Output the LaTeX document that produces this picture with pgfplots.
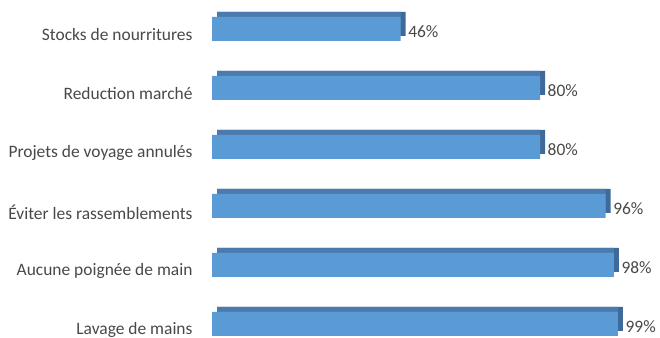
\documentclass[border=0pt]{standalone}
\usepackage{pgfplots}
\pgfplotsset{compat=1.18}
\usepackage{pgfplotstable}
\usepackage{fontspec}
\setmainfont{Carlito}
\definecolor{front}{HTML}{5B9BD5}
\definecolor{topf}{HTML}{4B7BAE}
\definecolor{side}{HTML}{3D6A98}
\definecolor{txt}{HTML}{484848}
\pgfplotstableread{
y v
0 99
1 98
2 96
3 80
4 80
5 46
}\data
\begin{document}
\begin{tikzpicture}
\useasboundingbox (0,0) rectangle (660bp,338bp);
\begin{axis}[
  at={(212bp,-15.5bp)}, anchor=south west,
  x=4.1bp, y=59bp,
  xmin=0, xmax=110, ymin=-0.5, ymax=5.5,
  axis line style={draw=none},
  xtick=\empty,
  ytick={0,1,2,3,4,5},
  yticklabels={Lavage de mains, Aucune poignée de main, Éviter les rassemblements, Projets de voyage annulés, Reduction marché, Stocks de nourritures},
  major tick length=0pt,
  /pgf/number format/assume math mode=true,
  yticklabel style={font=\fontsize{17.5}{20}\selectfont, text=txt, anchor=east, xshift=-16bp, yshift=-6bp},
  clip=false,
]
\addplot[xbar, bar width=24bp, fill=side, draw=none, xshift=5bp, yshift=5bp] table[x=v, y=y] {\data};
\addplot[xbar, bar width=24bp, fill=topf, draw=none, xshift=5bp, yshift=5bp] table[x expr=\thisrow{v}-1.22, y=y] {\data};
\addplot[xbar, bar width=24bp, fill=front, draw=none,
  nodes near coords={\pgfmathprintnumber[assume math mode=true]{\pgfplotspointmeta}\%},
  point meta=explicit,
  every node near coord/.append style={font=\fontsize{17.5}{20}\selectfont, text=txt, anchor=west, xshift=6.5bp, yshift=-2.5bp, inner sep=1bp}] table[x=v, y=y, meta=v] {\data};
\end{axis}
\end{tikzpicture}
\end{document}
